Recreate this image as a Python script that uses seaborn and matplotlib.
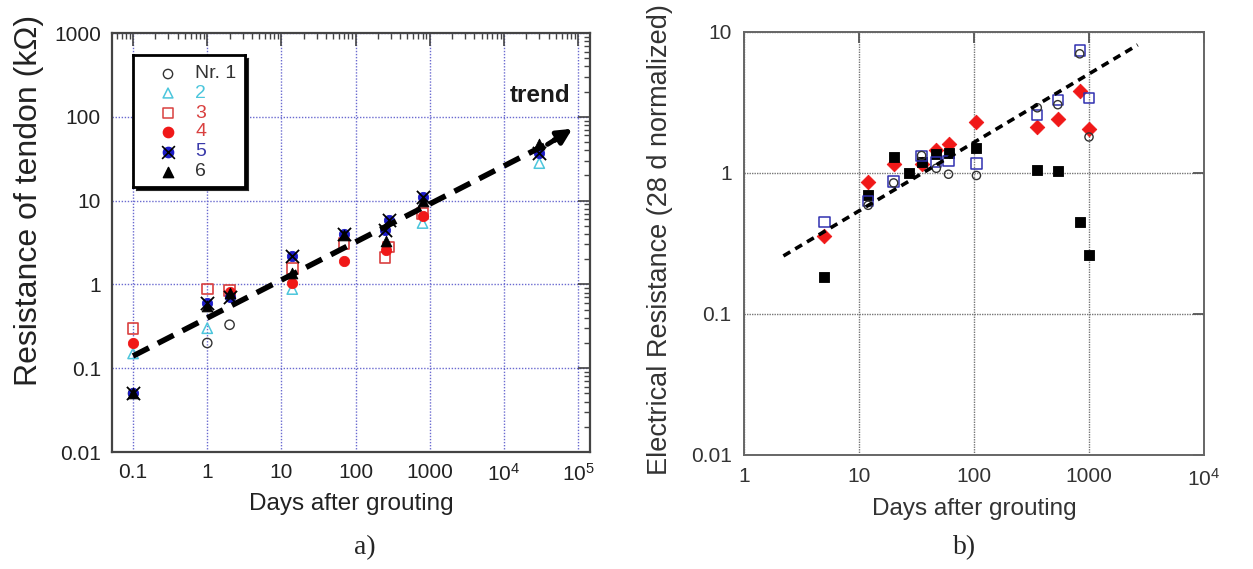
import numpy as np
import pandas as pd
import matplotlib
matplotlib.use("Agg")
from matplotlib import pyplot as plt
from matplotlib.ticker import LogLocator, FixedLocator, FixedFormatter, NullFormatter
import seaborn as sns

# ---- a) resistance of tendon (kOhm) ----
x1 = [0.1, 1, 2]
y1 = [0.05, 0.2, 0.33]
x2 = [0.1, 1, 14, 800, 30000]
y2 = [0.15, 0.3, 0.88, 5.4, 28]
x3 = [0.1, 1, 2, 14, 70, 250, 280, 800]
y3 = [0.3, 0.88, 0.85, 1.55, 3.1, 2.1, 2.8, 7.0]
x4 = [0.1, 2, 14, 70, 260, 800]
y4 = [0.2, 0.82, 1.05, 1.9, 2.6, 6.5]
x5 = [0.1, 1, 2, 14, 70, 250, 280, 800, 30000]
y5 = [0.05, 0.6, 0.7, 2.2, 4.0, 4.5, 5.8, 11, 37]
x6 = [0.1, 1, 2, 14, 70, 260, 800, 30000]
y6 = [0.05, 0.55, 0.78, 1.35, 3.9, 3.3, 10, 48]
trend_a_x = [0.1, 90000]
trend_a_y = [0.14, 75]

# ---- b) electrical resistance (28 d normalized) ----
days_b = [5, 12, 20, 27, 35, 47, 60, 105, 355, 535, 830, 1000]
black_sq = [0.184, 0.70, 1.29, 1.0, 1.2, 1.36, 1.38, 1.5, 1.05, 1.04, 0.45, 0.26]
days_red = [5, 12, 20, 35, 47, 60, 105, 355, 535, 830, 1000]
red_dia = [0.36, 0.86, 1.16, 1.15, 1.45, 1.6, 2.3, 2.13, 2.4, 3.8, 2.06]
days_blue = [5, 12, 20, 35, 47, 60, 105, 355, 535, 830, 1000]
blue_sq = [0.45, 0.63, 0.87, 1.32, 1.2, 1.21, 1.17, 2.57, 3.3, 7.4, 3.4]
days_circ = [12, 20, 35, 47, 60, 105, 355, 535, 830, 1000]
open_circ = [0.59, 0.85, 1.33, 1.08, 0.98, 0.96, 2.9, 3.05, 7.0, 1.8]
trend_b_x = [2.2, 2650]
trend_b_y = [0.258, 8.1]

sns.set_style("white")
plt.rcParams["font.family"] = ["Liberation Sans", "DejaVu Sans"]
plt.rcParams["mathtext.fontset"] = "custom"
plt.rcParams["mathtext.rm"] = "Liberation Sans"
plt.rcParams["mathtext.it"] = "Liberation Sans:italic"

fig = plt.figure(figsize=(12.53, 5.69), dpi=100)
ax1 = fig.add_axes([0.0894, 0.2056, 0.3815, 0.7364])
ax2 = fig.add_axes([0.5938, 0.2004, 0.3671, 0.7434])

cyan = "#4cc6dc"
red_o = "#d9403f"
red = "#f01818"
blue = "#1c1cc8"

# panel a
ax1.set_xscale("log")
ax1.set_yscale("log")
ax1.set_xlim(0.052, 1.45e5)
ax1.set_ylim(0.01, 1000)

sns.scatterplot(x=x1, y=y1, ax=ax1, marker="o", s=45, facecolor="none", edgecolor="#333333", linewidth=1.0, zorder=3)
sns.scatterplot(x=x2, y=y2, ax=ax1, marker="^", s=55, facecolor="none", edgecolor=cyan, linewidth=1.1, zorder=3)
sns.scatterplot(x=x3, y=y3, ax=ax1, marker="s", s=60, facecolor="none", edgecolor=red_o, linewidth=1.2, zorder=3)
sns.scatterplot(x=x4, y=y4, ax=ax1, marker="o", s=55, color=red, edgecolor=red, zorder=3)
sns.scatterplot(x=x5, y=y5, ax=ax1, marker="o", s=55, color=blue, edgecolor=blue, zorder=4)
sns.scatterplot(x=x5, y=y5, ax=ax1, marker="x", s=90, color="black", linewidth=1.3, zorder=5)
sns.scatterplot(x=x6, y=y6, ax=ax1, marker="^", s=60, color="black", edgecolor="black", zorder=6)

sns.lineplot(x=trend_a_x[:1] + [trend_a_x[1] * 0.75], y=trend_a_y[:1] + [trend_a_y[1] * 0.82], ax=ax1,
             color="black", linewidth=4, dashes=(3.2, 1.8), zorder=7)
ax1.annotate("", xy=(trend_a_x[1], trend_a_y[1]), xytext=(trend_a_x[1] * 0.4, trend_a_y[1] * 0.6),
             arrowprops=dict(arrowstyle="-|>", color="black", lw=3.5, mutation_scale=22), zorder=7)
ax1.text(1.2e4, 180, "trend", fontsize=17.5, fontweight="bold", ha="left", va="center", color="#1a1a1a")

ax1.grid(True, which="major", color="#6a6ad0", linestyle=(0, (1, 1.2)), linewidth=1.0)
ax1.xaxis.set_major_locator(FixedLocator([0.1, 1, 10, 100, 1000, 1e4, 1e5]))
ax1.xaxis.set_major_formatter(FixedFormatter(["0.1", "1", "10", "100", "1000", r"$10^4$", r"$10^5$"]))
ax1.xaxis.set_minor_locator(LogLocator(base=10, subs=np.arange(2, 10), numticks=20))
ax1.xaxis.set_minor_formatter(NullFormatter())
ax1.yaxis.set_major_locator(FixedLocator([0.01, 0.1, 1, 10, 100, 1000]))
ax1.yaxis.set_major_formatter(FixedFormatter(["0.01", "0.1", "1", "10", "100", "1000"]))
ax1.yaxis.set_minor_locator(LogLocator(base=10, subs=np.arange(2, 10), numticks=20))
ax1.yaxis.set_minor_formatter(NullFormatter())
ax1.tick_params(which="both", direction="in", top=True, right=True, colors="#444444", labelcolor="#222222")
ax1.tick_params(which="major", length=9, width=1.2, labelsize=15, pad=8)
ax1.tick_params(which="minor", length=4, width=1.0)
for sp in ax1.spines.values():
    sp.set_color("#444444")
    sp.set_linewidth(1.6)
ax1.set_xlabel("Days after grouting", fontsize=17.5, color="#222222", labelpad=6)
ax1.set_ylabel("Resistance of tendon (k\u03a9)", fontsize=23, color="#222222")
ax1.yaxis.set_label_coords(-0.142, 0.60)

# legend box, drawn by hand
sh = fig.add_axes([136 / 1253, 1 - 190 / 569, 112 / 1253, 132 / 569])
sh.set_facecolor("black")
sh.set_xticks([])
sh.set_yticks([])
lg = fig.add_axes([133 / 1253, 1 - 187 / 569, 112 / 1253, 132 / 569])
lg.set_xlim(0, 112)
lg.set_ylim(132, 0)
lg.set_xticks([])
lg.set_yticks([])
lg.set_facecolor("white")
for sp in lg.spines.values():
    sp.set_linewidth(2)
    sp.set_color("black")
rows = [19, 38, 58, 77, 97, 117]
labels = ["Nr. 1", "2", "3", "4", "5", "6"]
lab_cols = ["#333333", cyan, red_o, red_o, "#3a3aaa", "#333333"]
lg.scatter([35], [rows[0]], marker="o", s=45, facecolor="none", edgecolor="#333333", linewidth=1.0)
lg.scatter([35], [rows[1]], marker="^", s=50, facecolor="none", edgecolor=cyan, linewidth=1.1)
lg.scatter([35], [rows[2]], marker="s", s=50, facecolor="none", edgecolor=red_o, linewidth=1.1)
lg.scatter([35], [rows[3]], marker="o", s=55, color=red)
lg.scatter([35], [rows[4]], marker="o", s=55, color=blue)
lg.scatter([35], [rows[4]], marker="x", s=85, color="black", linewidth=1.2)
lg.scatter([35], [rows[5]], marker="^", s=55, color="black")
for r, t, c in zip(rows, labels, lab_cols):
    lg.text(62, r, t, fontsize=14, color=c, va="center", ha="left")

# panel b
ax2.set_xscale("log")
ax2.set_yscale("log")
ax2.set_xlim(1, 1e4)
ax2.set_ylim(0.01, 10)
sns.scatterplot(x=days_red, y=red_dia, ax=ax2, marker="D", s=55, color=red, edgecolor=red, zorder=3)
sns.scatterplot(x=days_b, y=black_sq, ax=ax2, marker="s", s=60, color="black", edgecolor="black", zorder=4)
sns.scatterplot(x=days_blue, y=blue_sq, ax=ax2, marker="s", s=55, facecolor="none", edgecolor="#3030b0", linewidth=1.1, zorder=5)
sns.scatterplot(x=days_circ, y=open_circ, ax=ax2, marker="o", s=35, facecolor="none", edgecolor="#333333", linewidth=1.0, zorder=5)
sns.lineplot(x=trend_b_x, y=trend_b_y, ax=ax2, color="black", linewidth=2.6, dashes=(2.2, 1.6), zorder=6)

ax2.grid(True, which="major", color="#777777", linestyle=(0, (1, 0.8)), linewidth=1.0)
ax2.xaxis.set_major_locator(FixedLocator([1, 10, 100, 1000, 1e4]))
ax2.xaxis.set_major_formatter(FixedFormatter(["1", "10", "100", "1000", r"$10^4$"]))
ax2.xaxis.set_minor_locator(FixedLocator([]))
ax2.yaxis.set_major_locator(FixedLocator([0.01, 0.1, 1, 10]))
ax2.yaxis.set_major_formatter(FixedFormatter(["0.01", "0.1", "1", "10"]))
ax2.yaxis.set_minor_locator(FixedLocator([]))
ax2.tick_params(which="major", direction="in", top=True, right=True, length=8, width=1.3,
                colors="#555555", labelcolor="#333333", labelsize=15, pad=9)
for sp in ax2.spines.values():
    sp.set_color("#666666")
    sp.set_linewidth(1.4)
ax2.set_xlabel("Days after grouting", fontsize=17.5, color="#333333", labelpad=6)
ax2.set_ylabel("Electrical Resistance (28 d normalized)", fontsize=19.5, color="#333333")
ax2.yaxis.set_label_coords(-0.155, 0.51)

fig.text(365 / 1253, 1 - 548 / 569, "a)", fontsize=20, family="Liberation Serif", ha="center", va="center")
fig.text(965 / 1253, 1 - 548 / 569, "b)", fontsize=20, family="Liberation Serif", ha="center", va="center")

fig.savefig("out.png", dpi=100, facecolor="white")
